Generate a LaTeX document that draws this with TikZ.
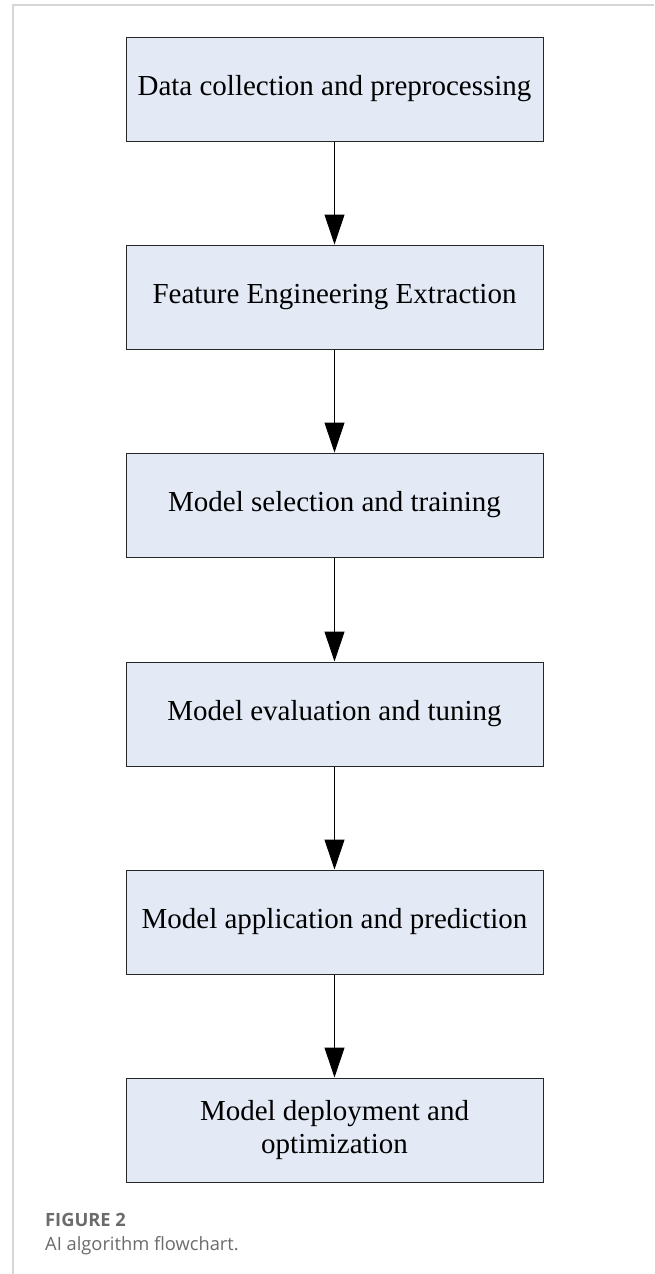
\documentclass[tikz,border=0pt]{standalone}
\usepackage{fontspec}
\setmainfont{Liberation Serif}
\newfontfamily\capfont{Open Sans}
\usetikzlibrary{arrows.meta}
\definecolor{boxfill}{HTML}{E3EAF6}
\definecolor{framegray}{HTML}{D6D6D6}
\definecolor{capgray}{HTML}{6B6B6B}
\tikzset{
  flowbox/.style={draw=black!85, line width=1pt, fill=boxfill, minimum width=417pt,
    minimum height=104pt, align=center, inner sep=0pt, font=\fontsize{29}{33}\selectfont},
  flowarrow/.style={draw=black, line width=1pt, -{Triangle[width=20pt,length=30pt]}},
  captext/.style={anchor=base west, inner sep=0pt, text=capgray, font=\capfont\fontsize{18.3}{22}\selectfont}
}
\begin{document}
\begin{tikzpicture}[x=1pt,y=-1pt]
\useasboundingbox (0,0) rectangle (654,1274);
\fill[white] (0,0) rectangle (654,1274);
\draw[framegray, line width=1.5pt] (654,5) -- (13,5) -- (13,1274);
\node[flowbox] (b1) at (334.5,89) {Data collection and preprocessing};
\node[flowbox] (b2) at (334.5,297) {Feature Engineering Extraction};
\node[flowbox] (b3) at (334.5,505) {Model selection and training};
\node[flowbox] (b4) at (334.5,714) {Model evaluation and tuning};
\node[flowbox] (b5) at (334.5,922) {Model application and prediction};
\node[flowbox] (b6) at (334.5,1130) {Model deployment and\\optimization};
\draw[flowarrow] (b1) -- (b2);
\draw[flowarrow] (b2) -- (b3);
\draw[flowarrow] (b3) -- (b4);
\draw[flowarrow] (b4) -- (b5);
\draw[flowarrow] (b5) -- (b6);
\node[captext, font=\capfont\bfseries\fontsize{18.3}{22}\selectfont] (c1) at (45,1226) {FIGURE 2};
\node[captext] (c2) at (45,1250) {AI algorithm flowchart.};
\end{tikzpicture}
\end{document}
